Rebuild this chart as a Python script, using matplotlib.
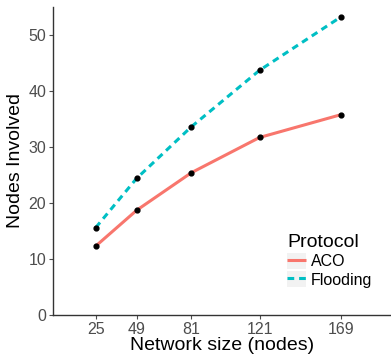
import matplotlib
matplotlib.use("Agg")
import matplotlib.pyplot as plt
from matplotlib.patches import Patch

# --- data ---
network_size = [25, 49, 81, 121, 169]
aco = [12.3, 18.7, 25.4, 31.7, 35.8]
flooding = [15.6, 24.4, 33.6, 43.7, 53.3]
y_ticks = [0, 10, 20, 30, 40, 50]

plt.rcParams["font.family"] = ["Liberation Sans", "DejaVu Sans"]

fig = plt.figure(figsize=(3.91, 3.60), dpi=100)
ax = fig.add_axes([53 / 391, 1 - 315 / 360, 338 / 391, 308 / 360])

aco_col = "#F8766D"
fl_col = "#00BFC4"

l_aco, = ax.plot(network_size, aco, color=aco_col, lw=2.2, solid_capstyle="butt")
l_fl, = ax.plot(network_size, flooding, color=fl_col, lw=2.2, ls=(0, (2.2, 1.6)))
ax.scatter(network_size, aco, color="black", s=12, zorder=5)
ax.scatter(network_size, flooding, color="black", s=12, zorder=5)

ax.set_xlim(0, 198)
ax.set_ylim(0, 55)
ax.set_xticks(network_size)
ax.set_yticks(y_ticks)
ax.tick_params(colors="#4D4D4D", labelsize=11.5, length=3, width=0.8, pad=2)
for s in ["top", "right"]:
    ax.spines[s].set_visible(False)
for s in ["left", "bottom"]:
    ax.spines[s].set_color("#333333")
    ax.spines[s].set_linewidth(1.0)

ax.set_xlabel("Network size (nodes)", fontsize=14, labelpad=0)
ax.set_ylabel("Nodes Involved", fontsize=14, labelpad=3)

bg = "#F2F2F2"
handles = [(Patch(fc=bg, ec="none"), l_aco), (Patch(fc=bg, ec="none"), l_fl)]
leg = ax.legend(handles, ["ACO", "Flooding"], title="Protocol",
                loc="upper left", bbox_to_anchor=(0.692, 0.262),
                frameon=False, fontsize=11.5, title_fontsize=14,
                handlelength=1.2, handleheight=1.2, handletextpad=0.3,
                labelspacing=0.1, borderpad=0, borderaxespad=0)
leg._legend_box.align = "left"

fig.savefig("out.png", dpi=100)
